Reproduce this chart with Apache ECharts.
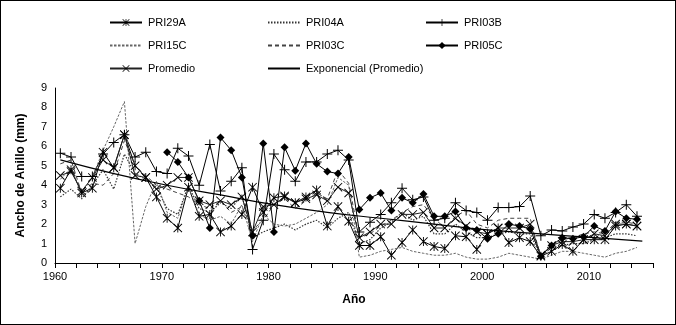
<!DOCTYPE html>
<html>
<head>
<meta charset="utf-8">
<script src="https://cdn.jsdelivr.net/npm/echarts@6/dist/echarts.min.js"></script>
<style>
  html, body { margin: 0; padding: 0; background: #fff; }
  #ringChart { width: 676px; height: 325px; box-sizing: border-box; border: 1px solid #000; }
</style>
</head>
<body>
<div id="ringChart"></div>
<script>
/*** Ancho de anillo por año ***/
var years = [];
for (var y = 1960; y <= 2014; y++) years.push(y);

var pri29a = [3.85, 4.8, 3.6, 3.85, 5.7, 4.9, 6.6, 5.0, 4.4, 3.4,
	2.3, 1.8, 3.9, 2.4, 2.5, 1.6, 1.9, 2.5, 3.9, 2.6,
	3.35, 3.45, 3.1, 3.4, 3.75, 1.9, 2.9, 2.15, 0.9, 0.9,
	1.35, 0.4, 1.05, 1.7, 1.1, 0.85, 0.75, 1.4, 1.35, 0.7,
	1.5, 1.8, 1.05, 1.3, 1.1, 0.35, 0.6, 0.95, 0.6, 1.2,
	1.2, 1.2, 1.9, 2.0, 1.9];
var pri04a = [3.4, 3.8, 3.3, 4.0, 4.8, 3.8, 5.6, 4.6, 4.3, 3.9,
	2.8, 2.5, 4.0, 2.8, 2.6, 3.1, 2.8, 3.5, 1.3, 1.6,
	1.8, 2.0, 1.7, 2.0, 2.2, 1.8, 2.3, 2.6, 1.0, 1.2,
	1.8, 2.1, 2.6, 2.2, 2.4, 1.5, 1.5, 2.0, 1.6, 1.3,
	1.3, 1.5, 1.6, 1.5, 1.5, 0.3, 0.8, 0.9, 1.0, 1.0,
	1.2, 1.3, 1.5, 1.5, 1.4];
var pri03b = [5.65, 5.45, 4.45, 4.45, 5.6, 6.2, 6.6, 5.45, 5.7, 4.7,
	4.6, 5.9, 5.5, 4.0, 6.1, 3.7, 4.2, 4.9, 0.7, 2.2,
	5.6, 4.8, 4.2, 5.2, 5.2, 5.6, 5.8, 5.3, 1.6, 2.1,
	2.5, 3.1, 3.85, 3.25, 3.4, 2.2, 2.3, 3.1, 2.7, 2.6,
	2.2, 2.85, 2.85, 2.9, 3.45, 1.4, 1.7, 1.65, 1.85, 2.0,
	2.5, 2.3, 2.6, 3.0, 2.4];
var pri15c = [4.3, 4.9, 3.6, 4.4, 5.8, 7.0, 8.3, 1.0, 2.9, 4.2,
	2.6, 2.3, 3.9, 2.5, 2.2, 2.4, 2.0, 3.0, 1.1, 2.5,
	2.0, 1.9, 2.0, 2.3, 2.6, 3.0, 4.4, 4.0, 0.3, 0.4,
	0.6, 0.7, 0.8, 0.6, 0.5, 0.4, 0.4, 0.5, 0.3, 0.2,
	0.2, 0.3, 0.5, 0.4, 0.3, 0.2, 0.4, 0.6, 0.6, 0.5,
	0.4, 0.3, 0.5, 0.6, 0.8];
var pri03c = [5.1, 5.3, 3.6, 4.1, 4.0, 4.6, 6.3, 5.0, 4.5, 4.0,
	3.8, 3.6, 3.4, 3.0, 2.8, 3.2, 2.6, 2.9, 1.7, 2.2,
	3.0, 3.3, 2.8, 3.2, 3.6, 3.3, 4.8, 4.1, 1.3, 1.5,
	1.9, 2.2, 2.6, 2.9, 3.0, 2.3, 1.8, 2.4, 2.7, 2.0,
	1.8, 2.2, 2.3, 2.3, 2.3, 0.3, 0.9, 1.2, 1.3, 1.5,
	1.6, 1.5, 2.1, 2.1, 2.0];
var pri05c = [null, null, null, null, null, null, null, null, null, null,
	5.7, 5.2, 4.4, 3.2, 1.8, 6.45, 5.8, 4.4, 1.4, 6.15,
	1.6, 5.95, 4.75, 6.15, 5.1, 4.7, 4.6, 5.45, 2.75, 3.35,
	3.6, 2.7, 3.35, 3.1, 3.55, 2.4, 2.4, 2.65, 1.8, 1.7,
	1.25, 1.5, 2.0, 1.9, 1.75, 0.35, 0.9, 1.3, 1.25, 1.35,
	1.9, 1.65, 2.65, 2.3, 2.25];
var promedio = [4.5, 4.7, 3.7, 4.4, 5.3, 4.9, 6.6, 4.5, 4.4, 3.8,
	4.0, 4.4, 4.4, 3.2, 3.0, 3.2, 3.0, 3.4, 1.6, 2.9,
	3.0, 3.4, 3.1, 3.3, 3.5, 3.2, 3.9, 3.6, 1.3, 1.6,
	2.0, 2.0, 2.5, 2.5, 2.6, 1.8, 1.8, 2.3, 1.9, 1.6,
	1.5, 1.8, 1.8, 1.8, 2.0, 0.4, 0.9, 1.1, 1.1, 1.2,
	1.5, 1.4, 2.0, 2.0, 1.9];
// linea de tendencia exponencial
var trendYears = [1960, 1965, 1970, 1975, 1980, 1985, 1990, 1995, 2000, 2005, 2010, 2014.5];
var trendVals = [5.3, 4.6, 4.0, 3.5, 3.0, 2.6, 2.3, 2.0, 1.7, 1.5, 1.3, 1.12];

var xTicks = [1960, 1970, 1980, 1990, 2000, 2010];

var symPlus = 'path://M4.5,0H5.5V4.5H10V5.5H5.5V10H4.5V5.5H0V4.5H4.5Z';
var symCross = 'path://M0,0.7L0.7,0L5,4.3L9.3,0L10,0.7L5.7,5L10,9.3L9.3,10L5,5.7L0.7,10L0,9.3L4.3,5Z';
var symStar = symCross.replace('Z', 'ZM4.5,0H5.5V10H4.5Z');

var ringChart = {
	init: function() {
		this.chart();
	},
	toPoints: function(vals, xs) {
		var out = [];
		xs = xs || years;
		for (var i = 0; i < vals.length; i++) {
			if (vals[i] == null) continue;
			out.push([xs[i] + 0.5, vals[i]]); //punto al centro del año
		}
		return out;
	},
	legendItem: function(name, left, top, noMarker) {
		var lg = {
			data: [name],
			left: left,
			top: top,
			itemWidth: 32,
			itemHeight: 9,
			selectedMode: false,
			textStyle: { fontFamily: 'Liberation Sans', fontSize: 11, color: '#000', padding: [0, 0, 0, 1] }
		};
		if (noMarker) lg.itemStyle = { opacity: 0 }; //solo la linea
		return lg;
	},
	chart: function() {
		var self = this;
		var myChart = echarts.init(document.getElementById('ringChart'));
		var lineBase = function(name, vals, opt) {
			var s = {
				name: name,
				type: 'line',
				data: self.toPoints(vals),
				symbol: 'none',
				lineStyle: { color: '#000', width: 1 },
				itemStyle: { color: '#000' },
				animation: false,
				z: 3
			};
			for (var k in opt) s[k] = opt[k];
			return s;
		};
		var option = {
			backgroundColor: '#fff',
			legend: [
				self.legendItem('PRI29A', 103, 11),
				self.legendItem('PRI04A', 261, 11, true),
				self.legendItem('PRI03B', 419, 11),
				self.legendItem('PRI15C', 103, 34, true),
				self.legendItem('PRI03C', 261, 34, true),
				self.legendItem('PRI05C', 419, 34),
				self.legendItem('Promedio', 103, 57),
				self.legendItem('Exponencial (Promedio)', 261, 57, true)
			],
			grid: { left: 54, right: 22, top: 87, bottom: 61 },
			xAxis: {
				type: 'value',
				min: 1960,
				max: 2016,
				interval: 2,
				name: 'Año',
				nameLocation: 'middle',
				nameGap: 31,
				nameTextStyle: { fontFamily: 'Liberation Sans', fontSize: 12, fontWeight: 'bold', color: '#000' },
				axisLine: { lineStyle: { color: '#000', width: 1 } },
				axisTick: { show: true, length: 5, lineStyle: { color: '#000' } },
				axisLabel: {
					fontFamily: 'Liberation Sans', fontSize: 11, color: '#000', margin: 8,
					formatter: function(v) {
						return xTicks.indexOf(v) >= 0 ? String(v) : '';
					}
				},
				splitLine: { show: false }
			},
			yAxis: {
				type: 'value',
				min: 0,
				max: 9,
				interval: 1,
				name: 'Ancho de Anillo (mm)',
				nameLocation: 'middle',
				nameGap: 28,
				nameTextStyle: { fontFamily: 'Liberation Sans', fontSize: 12, fontWeight: 'bold', color: '#000' },
				axisLine: { show: true, lineStyle: { color: '#000', width: 1 } },
				axisTick: { show: false },
				axisLabel: { fontFamily: 'Liberation Sans', fontSize: 11, color: '#000', margin: 8 },
				splitLine: { show: false }
			},
			series: [
				lineBase('PRI29A', pri29a, { symbol: symStar, symbolSize: 9 }),
				lineBase('PRI04A', pri04a, { lineStyle: { color: '#333', width: 1.2, type: [1.5, 1.5] }, itemStyle: { color: '#333' } }),
				lineBase('PRI03B', pri03b, { symbol: symPlus, symbolSize: 10 }),
				lineBase('PRI15C', pri15c, { lineStyle: { color: '#666', width: 1, type: [2.5, 1.5] }, itemStyle: { color: '#666' } }),
				lineBase('PRI03C', pri03c, { lineStyle: { color: '#444', width: 1, type: [4, 3] }, itemStyle: { color: '#444' } }),
				lineBase('PRI05C', pri05c, { symbol: 'diamond', symbolSize: 8 }),
				lineBase('Promedio', promedio, { symbol: symCross, symbolSize: 9, lineStyle: { color: '#222', width: 1 } }),
				{
					name: 'Exponencial (Promedio)',
					type: 'line',
					data: self.toPoints(trendVals, trendYears),
					smooth: true,
					symbol: 'none',
					lineStyle: { color: '#000', width: 1.2 },
					itemStyle: { color: '#000' },
					animation: false,
					z: 4
				}
			]
		};
		myChart.setOption(option, true);
	}
};

ringChart.init();
</script>
</body>
</html>
